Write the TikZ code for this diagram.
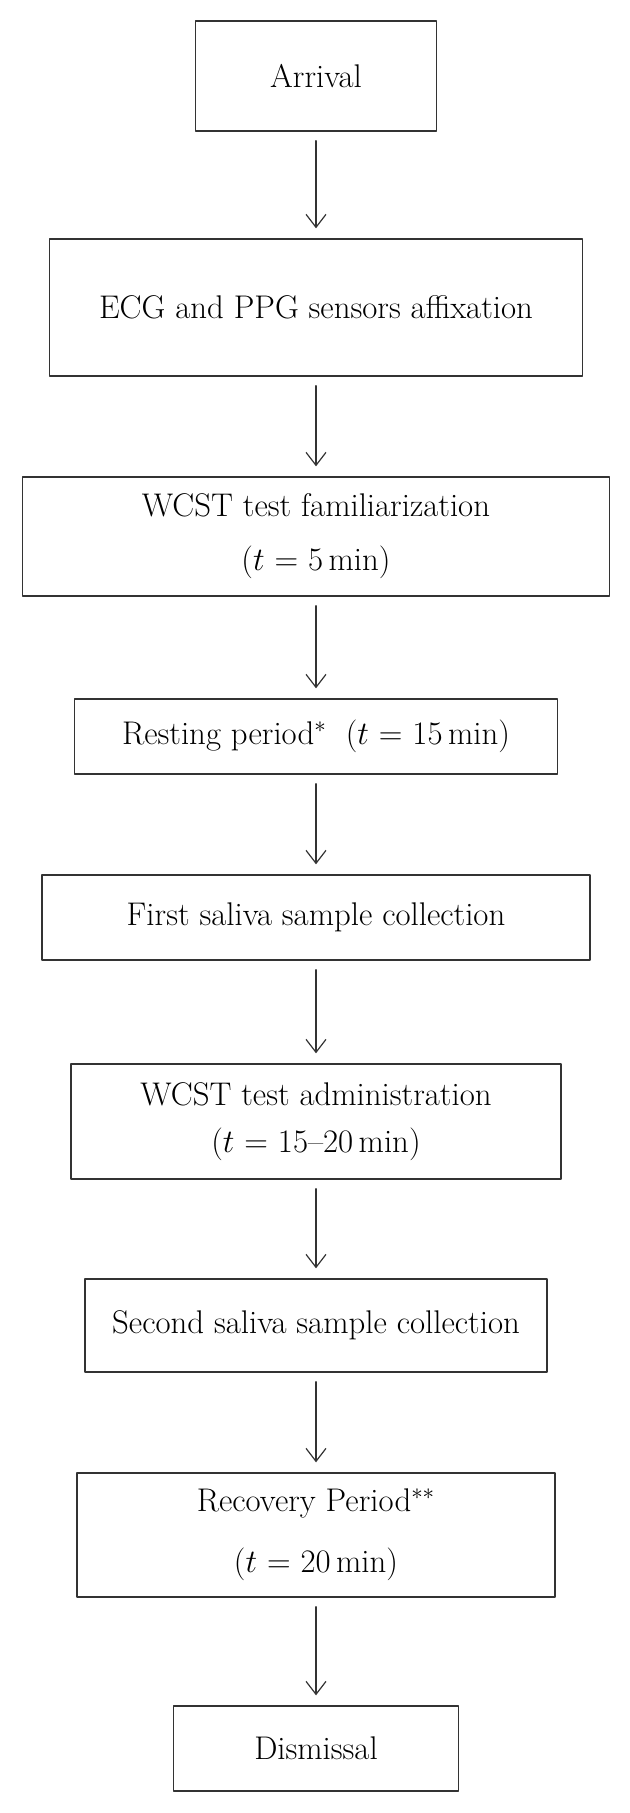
\RequirePackage{fix-cm}
\documentclass[tikz,border=0pt]{standalone}
\usetikzlibrary{arrows.meta}
\tikzset{stage/.style={draw=black!80,line width=0.7pt,rectangle,inner sep=0pt,align=center,font=\fontsize{16.4}{19}\selectfont},
	flow/.style={-{Straight Barb[length=6.5pt,width=10pt]},line width=0.6pt,draw=black!80,shorten <=4.5pt,shorten >=5pt}}
\begin{document}
\begin{tikzpicture}[x=0.5pt,y=-0.5pt,line join=round,line cap=round]
			\useasboundingbox (0,0) rectangle (629,1813);
			% steps of the session, top to bottom
			\node[stage,minimum width=120.5pt,minimum height=55pt] (arrival) at (316,76) {Arrival};
			\node[stage,minimum width=266.5pt,minimum height=68.5pt] (sensors) at (316,307.5) {ECG and PPG sensors affixation};
			\node[stage,minimum width=293.5pt,minimum height=59.5pt] (famil) at (316,536.5) {WCST test familiarization\\[8pt]($t$ = 5\,min)};
			\node[stage,minimum width=241.5pt,minimum height=37.5pt] (resting) at (316,736.5) {Resting period$^{*}$\;\ ($t$ = 15\,min)};
			\node[stage,minimum width=274pt,minimum height=42.5pt] (salivaA) at (316,917.5) {First saliva sample collection};
			\node[stage,minimum width=245pt,minimum height=57.5pt] (admin) at (316,1121.5) {WCST test administration\\[4.5pt]($t$ = 15--20\,min)};
			\node[stage,minimum width=231pt,minimum height=46.5pt] (salivaB) at (316,1325.5) {Second saliva sample collection};
			\node[stage,minimum width=239pt,minimum height=62pt] (recovery) at (316,1535) {Recovery Period$^{**}$\\[11.5pt]($t$ = 20\,min)};
			\node[stage,minimum width=142.5pt,minimum height=42.5pt] (dismissal) at (316,1748.5) {Dismissal};
			\foreach \a/\b in {arrival/sensors,sensors/famil,famil/resting,resting/salivaA,salivaA/admin,admin/salivaB,salivaB/recovery,recovery/dismissal}
				\draw[flow] (\a) -- (\b);
		\end{tikzpicture}
\end{document}
